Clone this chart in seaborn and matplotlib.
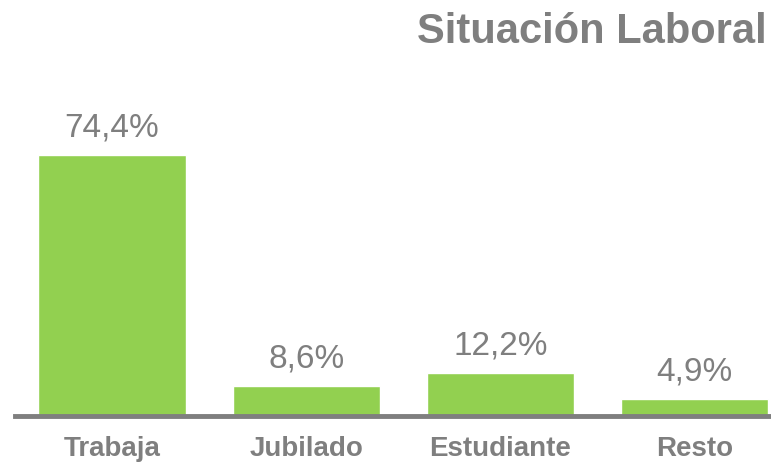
import matplotlib
matplotlib.use("Agg")
import matplotlib.pyplot as plt
import seaborn as sns
import pandas as pd

# data
categorias = ["Trabaja", "Jubilado", "Estudiante", "Resto"]
valores = [74.4, 8.6, 12.2, 4.9]
etiquetas = ["74,4%", "8,6%", "12,2%", "4,9%"]

GREEN = "#92D050"
GREY = "#7F7F7F"

sns.set_theme(style="white")
plt.rcParams["font.family"] = ["Liberation Sans", "DejaVu Sans"]

df = pd.DataFrame({"cat": categorias, "val": valores})

fig = plt.figure(figsize=(7.71, 4.64), dpi=100)
ax = fig.add_axes([15 / 771, 47 / 464, 1 - 15 / 771, 317 / 464])

sns.barplot(data=df, x="cat", y="val", color=GREEN, width=0.758,
            saturation=1, ax=ax)

ax.set_xlim(-0.5, 3.394)
ax.set_ylim(0, 90.3)

for i, (v, t) in enumerate(zip(valores, etiquetas)):
    ax.annotate(t, (i, v), xytext=(0, 9), textcoords="offset points",
                ha="center", va="bottom", fontsize=24, color=GREY)

for s in ["top", "right", "left"]:
    ax.spines[s].set_visible(False)
ax.spines["bottom"].set_color(GREY)
ax.spines["bottom"].set_linewidth(3.5)
ax.spines["bottom"].set_zorder(5)

ax.set_yticks([])
ax.set_xlabel("")
ax.set_ylabel("")
ax.tick_params(axis="x", length=0, pad=14)
for lbl in ax.get_xticklabels():
    lbl.set_fontsize(20)
    lbl.set_fontweight("bold")
    lbl.set_color(GREY)

fig.text(767 / 771, 1 - 32 / 464, "Situación Laboral", ha="right",
         va="center", fontsize=30, fontweight="bold", color=GREY)

fig.savefig("out.png", dpi=100)
